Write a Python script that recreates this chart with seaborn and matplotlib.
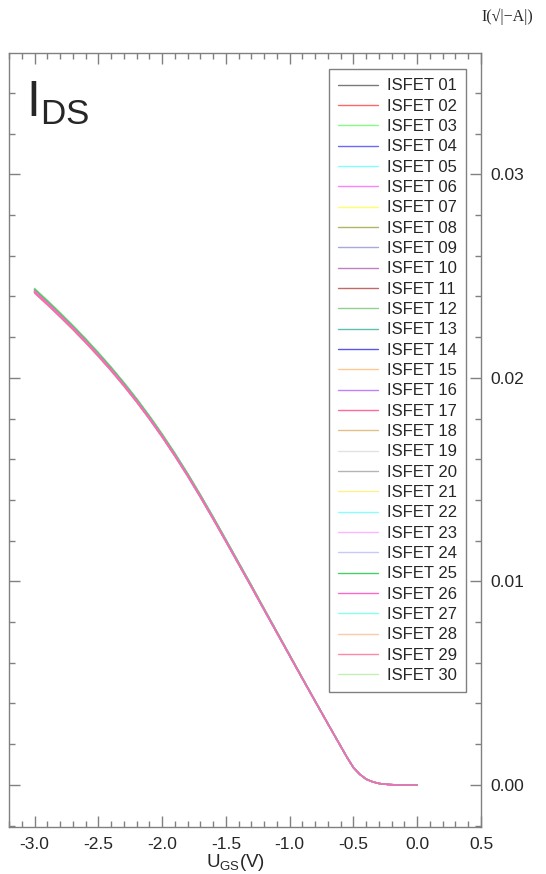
import numpy as np
import pandas as pd
import matplotlib
matplotlib.use("Agg")
import matplotlib.pyplot as plt
from matplotlib.ticker import MultipleLocator
import seaborn as sns

# gate voltage sweep (V)
ugs = [-3.0, -2.9, -2.8, -2.7, -2.6, -2.5, -2.4, -2.3, -2.2, -2.1, -2.0,
       -1.9, -1.8, -1.7, -1.6, -1.5, -1.4, -1.3, -1.2, -1.1, -1.0,
       -0.9, -0.8, -0.7, -0.6, -0.55, -0.5, -0.45, -0.4, -0.35, -0.3,
       -0.25, -0.2, -0.1, 0.0]

# sqrt(|I_DS|), mean curve
ids_mean = [0.02427, 0.02369, 0.02309, 0.02247, 0.02182, 0.02114, 0.02043,
            0.01968, 0.01889, 0.01805, 0.01716, 0.01622, 0.01523, 0.01419,
            0.01311, 0.01200, 0.01088, 0.00976, 0.00862, 0.00749, 0.00636,
            0.00523, 0.00411, 0.00300, 0.00190, 0.00135, 0.00085, 0.00052,
            0.00028, 0.00015, 0.00007, 0.00003, 0.00001, 0.0, 0.0]

devices = ["ISFET %02d" % i for i in range(1, 31)]

# small device-to-device spread (relative gain)
gain = [1.002, 0.998, 1.004, 0.997, 1.001, 0.999, 1.003, 0.996, 1.000, 1.002,
        0.998, 1.005, 0.997, 0.999, 1.001, 1.003, 0.996, 1.002, 1.000, 0.998,
        1.001, 0.999, 1.003, 0.997, 1.004, 1.000, 0.996, 1.002, 0.999, 1.005]

colors = ["#7a7a7a", "#ff6666", "#80ff80", "#6a6aff", "#80ffff", "#ff80ff",
          "#ffff66", "#b4b466", "#a8a8e0", "#c080c0", "#c06a6a", "#90d090",
          "#60c0b0", "#5858e8", "#ffc890", "#c080ff", "#ff6a98", "#e0c088",
          "#e2e2e2", "#b4b4b4", "#fff088", "#88ffff", "#ffb4ff", "#c8c8ff",
          "#44d066", "#ff66c8", "#88ffe8", "#ffc8a8", "#ff88a8", "#c4f0b4"]

# traces that show on top of the bundle in the original
on_top = ["ISFET 02", "ISFET 06", "ISFET 10", "ISFET 17", "ISFET 25", "ISFET 26"]

rows = []
for d, g in zip(devices, gain):
    for u, v in zip(ugs, ids_mean):
        rows.append({"U": u, "I": v * g, "device": d})
df = pd.DataFrame(rows)

sns.set_style("ticks")
plt.rcParams["font.family"] = ["Liberation Sans", "DejaVu Sans"]
plt.rcParams["mathtext.fontset"] = "custom"
plt.rcParams["mathtext.rm"] = "Liberation Sans"

fig, ax = plt.subplots(figsize=(5.46, 8.74), dpi=100)
fig.subplots_adjust(left=9/546, right=481/546, bottom=47/874, top=821/874)

sns.lineplot(data=df, x="U", y="I", hue="device", palette=colors,
             linewidth=1.0, ax=ax, legend=True)
for line, d in zip(ax.lines[:len(devices)], devices):
    if d in on_top:
        line.set_zorder(3)

ax.set_xlim(-3.2, 0.5)
ax.set_ylim(-0.00207, 0.03596)
ax.xaxis.set_major_locator(MultipleLocator(0.5))
ax.xaxis.set_minor_locator(MultipleLocator(0.1))
ax.yaxis.set_major_locator(MultipleLocator(0.01))
ax.yaxis.set_minor_locator(MultipleLocator(0.002))
ax.yaxis.tick_right()
ax.tick_params(which="both", direction="in", top=True, bottom=True,
               left=True, right=True, color="#808080", labelsize=12.5)
ax.tick_params(which="major", length=8, width=1)
ax.tick_params(which="minor", length=4, width=1)
ax.tick_params(axis="y", pad=7)
ax.tick_params(axis="x", pad=7)
ax.yaxis.set_major_formatter(plt.FormatStrFormatter("%.2f"))
ax.xaxis.set_major_formatter(plt.FormatStrFormatter("%.1f"))
for s in ax.spines.values():
    s.set_color("#808080")
    s.set_linewidth(1)
    s.set_visible(True)

ax.set_xlabel(r"$\mathregular{U_{GS}(V)}$", fontsize=13.5)
ax.xaxis.set_label_coords(0.479, -0.032, transform=ax.transAxes)
ax.xaxis.label.set_va("top")
ax.set_ylabel("")

ax.text(0.036, 0.965, r"$\mathregular{I_{DS}}$", transform=ax.transAxes,
        fontsize=36, va="top", ha="left")
fig.text(0.929, 0.981, "I(\u221a|\u2212A|)", fontsize=11.5, ha="center",
         va="center", family=["Liberation Serif", "DejaVu Serif"])

leg = ax.legend(loc="upper right", bbox_to_anchor=(0.968, 0.979),
                borderaxespad=0, fontsize=12, frameon=True, fancybox=False,
                framealpha=1, edgecolor="#808080", handlelength=2.4,
                handletextpad=0.5, labelspacing=0.32, borderpad=0.55)
leg.get_frame().set_linewidth(1)
for line in leg.get_lines():
    line.set_linewidth(1)

fig.savefig("out.png", dpi=100)
